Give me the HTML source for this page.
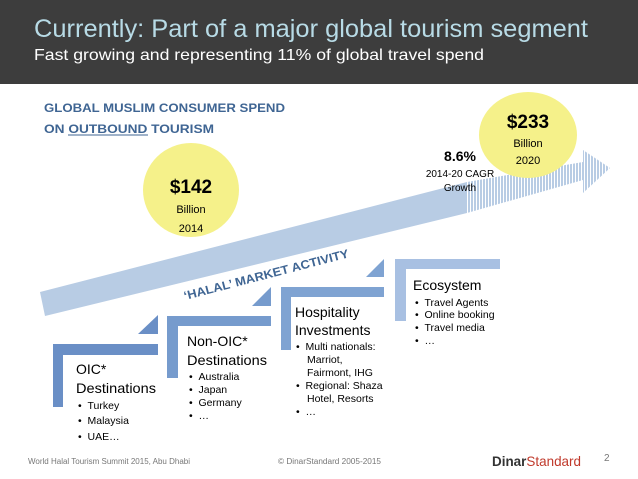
<!DOCTYPE html>
<html><head><meta charset="utf-8"><style>
body{margin:0;background:#fff}
svg{display:block}
text{font-family:"Liberation Sans",sans-serif}
</style></head><body>
<svg width="638" height="479" viewBox="0 0 638 479">
<rect x="0" y="0" width="638" height="84" fill="#3d3d3d"/>
<text x="34" y="37" font-size="25" fill="#b8dbe6" textLength="554" lengthAdjust="spacingAndGlyphs">Currently: Part of a major global tourism segment</text>
<text x="34" y="60" font-size="16" fill="#fff" textLength="450" lengthAdjust="spacingAndGlyphs">Fast growing and representing 11% of global travel spend</text>

<text x="44" y="112" font-size="12" font-weight="bold" fill="#3f6593" textLength="241" lengthAdjust="spacingAndGlyphs">GLOBAL MUSLIM CONSUMER SPEND</text>
<text x="44" y="133" font-size="12" font-weight="bold" fill="#3f6593" textLength="170" lengthAdjust="spacingAndGlyphs">ON OUTBOUND TOURISM</text>
<line x1="68" y1="135" x2="148" y2="135" stroke="#3f6593" stroke-width="1"/>

<defs>
<pattern id="str" width="3" height="4" patternUnits="userSpaceOnUse"><rect width="2" height="4" fill="#b8cce4"/></pattern>
</defs>
<polygon points="40,292 467,182 467,213 45,316" fill="#b8cce4"/>
<polygon points="467,182 583,162 583,150 610,168 583,193 583,180 467,213" fill="url(#str)"/>

<ellipse cx="191" cy="190" rx="48" ry="47" fill="#f5f18a"/>
<text x="191" y="193" font-size="19" font-weight="bold" text-anchor="middle" fill="#000">$142</text>
<text x="191" y="213" font-size="11" text-anchor="middle" fill="#000">Billion</text>
<text x="191" y="232" font-size="11" text-anchor="middle" fill="#000">2014</text>
<ellipse cx="528" cy="135" rx="49" ry="43" fill="#f5f18a"/>
<text x="528" y="128" font-size="19" font-weight="bold" text-anchor="middle" fill="#000">$233</text>
<text x="528" y="147" font-size="11" text-anchor="middle" fill="#000">Billion</text>
<text x="528" y="164" font-size="11" text-anchor="middle" fill="#000">2020</text>
<text x="460" y="161" font-size="14" font-weight="bold" text-anchor="middle" fill="#000">8.6%</text>
<text x="460" y="177" font-size="10" text-anchor="middle" fill="#000">2014-20 CAGR</text>
<text x="460" y="191" font-size="10" text-anchor="middle" fill="#000">Growth</text>

<text x="0" y="0" font-size="12" font-weight="bold" fill="#3f6593" transform="translate(185,300) rotate(-14.6)" textLength="170" lengthAdjust="spacingAndGlyphs">‘HALAL’ MARKET ACTIVITY</text>

<g>
<path d="M53,344 H158 V355 H63 V407 H53 Z" fill="#6a8fc6"/>
<polygon points="138,334 158,315 158,334" fill="#6a8fc6"/>
</g>
<g>
<path d="M167,316 H271 V326 H178 V378 H167 Z" fill="#769bcd"/>
<polygon points="252,306 271,287 271,306" fill="#769bcd"/>
</g>
<g>
<path d="M281,287 H384 V297 H291 V350 H281 Z" fill="#7fa3d2"/>
<polygon points="366,277 384,259 384,277" fill="#7fa3d2"/>
</g>
<g>
<path d="M395,259 H500 V269 H406 V321 H395 Z" fill="#a8c0e2"/>
</g>

<g font-size="10.5" fill="#000">
<text x="76" y="374" font-size="14">OIC*</text>
<text x="76" y="393" font-size="14" textLength="80" lengthAdjust="spacingAndGlyphs">Destinations</text>
<text x="78" y="409">•&#160;&#160;Turkey</text>
<text x="78" y="424">•&#160;&#160;Malaysia</text>
<text x="78" y="440">•&#160;&#160;UAE…</text>

<text x="187" y="346" font-size="14">Non-OIC*</text>
<text x="187" y="365" font-size="14" textLength="80" lengthAdjust="spacingAndGlyphs">Destinations</text>
<text x="189" y="380">•&#160;&#160;Australia</text>
<text x="189" y="393">•&#160;&#160;Japan</text>
<text x="189" y="406">•&#160;&#160;Germany</text>
<text x="189" y="419">•&#160;&#160;…</text>

<text x="295" y="317" font-size="14">Hospitality</text>
<text x="295" y="335" font-size="14">Investments</text>
<text x="296" y="350">•&#160;&#160;Multi nationals:</text>
<text x="307" y="363">Marriot,</text>
<text x="307" y="376">Fairmont, IHG</text>
<text x="296" y="389">•&#160;&#160;Regional: Shaza</text>
<text x="307" y="402">Hotel, Resorts</text>
<text x="296" y="415">•&#160;&#160;…</text>

<text x="413" y="290" font-size="14">Ecosystem</text>
<text x="415" y="306">•&#160;&#160;Travel Agents</text>
<text x="415" y="318">•&#160;&#160;Online booking</text>
<text x="415" y="331">•&#160;&#160;Travel media</text>
<text x="415" y="344">•&#160;&#160;…</text>
</g>

<text x="28" y="464" font-size="8" fill="#777" textLength="162" lengthAdjust="spacingAndGlyphs">World Halal Tourism Summit 2015, Abu Dhabi</text>
<text x="278" y="464" font-size="8" fill="#777" textLength="103" lengthAdjust="spacingAndGlyphs">© DinarStandard 2005-2015</text>
<text x="492" y="466" font-size="14" font-weight="bold" fill="#333" textLength="89" lengthAdjust="spacingAndGlyphs">Dinar<tspan fill="#c0392b" font-weight="normal">Standard</tspan></text>
<text x="604" y="461" font-size="10" fill="#777">2</text>
</svg>
</body></html>
